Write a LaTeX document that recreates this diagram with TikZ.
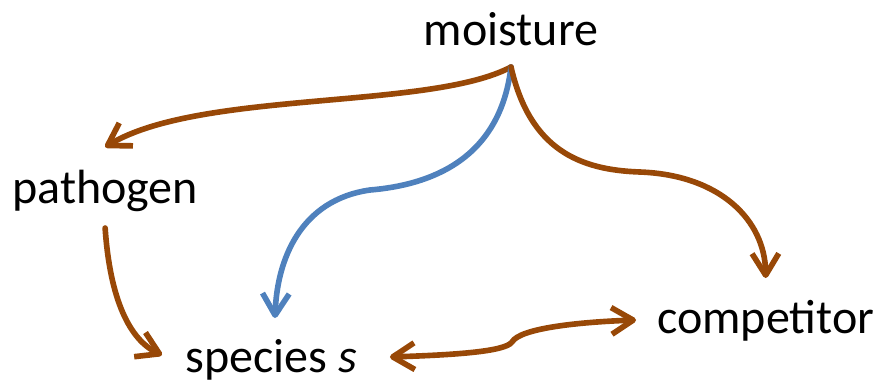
\documentclass[tikz,border=0pt]{standalone}
\usepackage{fontspec}
\setmainfont{Carlito}
\usepackage{xcolor}
\usetikzlibrary{arrows.meta, calc}
\definecolor{kbrown}{HTML}{984807}
\definecolor{kblue}{HTML}{4F81BD}

\begin{document}
\begin{tikzpicture}[x=0.03cm, y=-0.03cm,
  label/.style={font=\fontsize{41}{48}\selectfont, inner sep=0pt},
  flow/.style={kbrown, line width=4.8pt, line cap=round, line join=round,
    -{Straight Barb[length=6.5mm, width=8mm, line join=round]}},
  flowback/.style={flow, {Straight Barb[length=6.5mm, width=8mm, line join=round]}-{Straight Barb[length=6.5mm, width=8mm, line join=round]}},
  wet/.style={flow, kblue}]
\useasboundingbox (0,0) rectangle (881,382);
% variables
\node[label, anchor=base] (moisture) at (511,45) {moisture};
\node[label, anchor=base west] (pathogen) at (12,203) {pathogen};
\node[label, anchor=base west] (species) at (185,372) {species \textit{s}};
\node[label, anchor=base west] (competitor) at (657,333) {competitor};
\coordinate (split) at ($(moisture.base)+(0,22)$);
% effects of moisture
\draw[flow] (split) .. controls (430,110) and (200,90) .. ($(pathogen.base)+(0,-56)$);
\draw[wet] (split) .. controls (500,160) and (430,185) .. (370,190)
  .. controls (300,200) and (277,260) .. ($(species.base)+(4,-54)$);
\draw[flow] (split) .. controls (530,150) and (580,170) .. (640,172)
  .. controls (720,175) and (765,220) .. ($(competitor.base)+(0,-55)$);
% pathogen and competition
\draw[flow] ($(pathogen.base)+(0,25)$) .. controls (110,300) and (130,340) .. ($(species.base west)+(-23,-17)$);
\draw[flowback] ($(species.base east)+(33,-15)$) .. controls (450,355) and (505,352) .. (512,342)
  .. controls (520,328) and (580,322) .. ($(competitor.base west)+(-21,-13)$);
\end{tikzpicture}
\end{document}
